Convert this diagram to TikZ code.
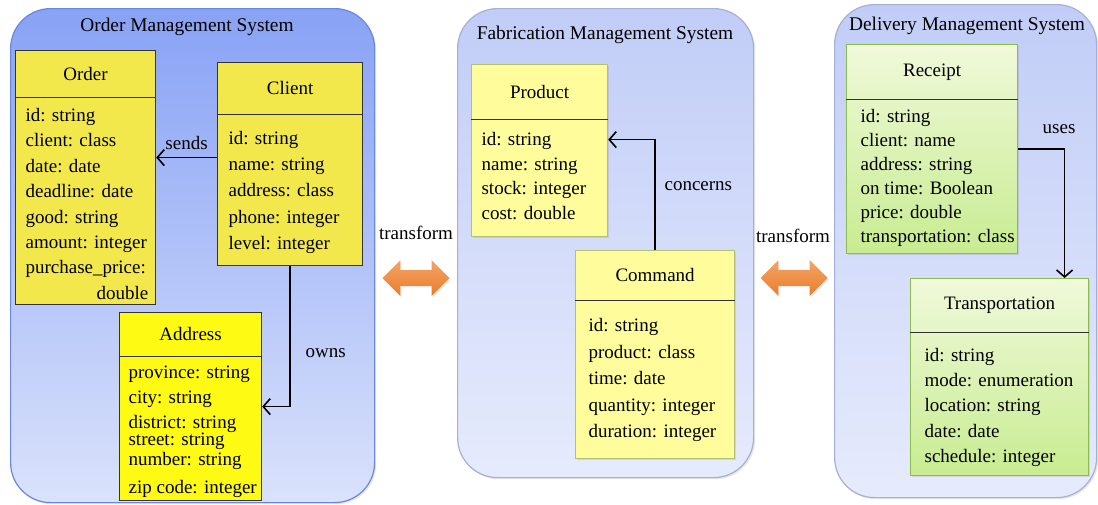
\documentclass[tikz,border=0pt]{standalone}
\usepackage[dvipsnames]{xcolor}
\usepackage{fontspec}
\setmainfont{Liberation Serif}
\usetikzlibrary{positioning,shapes.arrows,shadows,arrows.meta}

\definecolor{omsTop}{RGB}{136,162,245}
\definecolor{omsBottom}{RGB}{218,226,251}
\definecolor{omsLine}{RGB}{105,135,225}
\definecolor{fmsTop}{RGB}{193,205,247}
\definecolor{fmsBottom}{RGB}{230,235,252}
\definecolor{panelLine}{RGB}{165,176,215}
\definecolor{classYellow}{RGB}{242,232,76}
\definecolor{addrYellow}{RGB}{255,250,20}
\definecolor{paleYellow}{RGB}{255,252,156}
\definecolor{paleLine}{RGB}{180,192,120}
\definecolor{greenTop}{RGB}{240,249,218}
\definecolor{greenBottom}{RGB}{200,236,145}
\definecolor{greenLine}{RGB}{140,188,75}
\definecolor{arrowOrange}{RGB}{236,125,40}

\begin{document}
\begin{tikzpicture}[x=0.5pt,y=-0.5pt,thick,>={Straight Barb[length=3.5pt,width=8pt]},
    system panel/.style={draw, rounded corners=20pt, anchor=north west, line width=0.6pt, inner sep=0pt,
        drop shadow={opacity=0.2, shadow xshift=0.8pt, shadow yshift=-0.8pt}},
    panel title/.style={font=\fontsize{9.7}{12}\selectfont},
    class box/.style={draw, anchor=north west, line width=0.6pt, inner sep=0pt},
    pale box/.style={class box, drop shadow={opacity=0.2, shadow xshift=0.8pt, shadow yshift=-0.8pt}},
    class name/.style={inner sep=0pt, font=\fontsize{9.5}{12}\selectfont},
    attr list/.style={align=left, inner sep=0pt, font=\fontsize{9.5}{#1}\selectfont},
    attr list/.default=12.7pt,
    split line/.style={line width=0.6pt, draw=black!80},
    link label/.style={font=\fontsize{9.5}{12}\selectfont},
    transform arrow/.style={double arrow, double arrow head extend=5pt, inner xsep=0pt, inner ysep=3.5pt,
        minimum height=33.5pt, draw=none, top color=arrowOrange!70!white, bottom color=arrowOrange,
        drop shadow={opacity=0.15, shadow xshift=0.6pt, shadow yshift=-0.8pt}}]

    \useasboundingbox (0,0) rectangle (1098,504);

    % the three systems
    \node[system panel, top color=omsTop, bottom color=omsBottom, draw=omsLine, minimum width=182pt, minimum height=247pt] (oms) at (10,8) {};
    \node[system panel, top color=fmsTop, bottom color=fmsBottom, draw=panelLine, minimum width=148pt, minimum height=234.5pt] (fms) at (457,8) {};
    \node[system panel, top color=fmsTop, bottom color=fmsBottom, draw=panelLine, minimum width=131pt, minimum height=246.5pt] (dms) at (834,4) {};

    \node[panel title] (omstitle) at (187,27) {Order Management System};
    \node[panel title] (fmstitle) at (605,35) {Fabrication Management System};
    \node[panel title] (dmstitle) at (967,26) {Delivery Management System};

    % order management
    \node[class box, fill=classYellow, draw=black!80, minimum width=70pt, minimum height=127pt] (order) at (15,50) {};
    \node[class name, minimum width=70pt, minimum height=23pt, below=0pt of order.north] (ordername) {Order};
    \draw[split line] (ordername.south west) -- (ordername.south east);
    \node[attr list, below right=5pt and 5pt of ordername.south west] (orderattrs)
        {id: string\\client: class\\date: date\\deadline: date\\good: string\\amount: integer\\purchase\_price:\\\hspace*{35.5pt}double};

    \node[class box, fill=classYellow, draw=black!80, minimum width=72.5pt, minimum height=101.5pt] (client) at (217,62) {};
    \node[class name, minimum width=72.5pt, minimum height=25.5pt, below=0pt of client.north] (clientname) {Client};
    \draw[split line] (clientname.south west) -- (clientname.south east);
    \node[attr list=13.1pt, below right=8pt and 5.5pt of clientname.south west] (clientattrs)
        {id: string\\name: string\\address: class\\phone: integer\\level: integer};

    \node[class box, fill=addrYellow, draw=black!80, minimum width=71pt, minimum height=94pt] (address) at (119,312) {};
    \node[class name, minimum width=71pt, minimum height=21.5pt, below=0pt of address.north] (addressname) {Address};
    \draw[split line] (addressname.south west) -- (addressname.south east);
    \node[attr list=12.2pt, below right=4.5pt and 4.5pt of addressname.south west] (addressattrs)
        {province: string\\city: string\\[0.3pt]district: string\\[-3.7pt]street: string\\[-2.2pt]number: string\\[1.8pt]zip code: integer};

    % fabrication management
    \node[pale box, fill=paleYellow, draw=paleLine, minimum width=68pt, minimum height=86pt] (product) at (471,64) {};
    \node[class name, minimum width=68pt, minimum height=27pt, below=0pt of product.north] (productname) {Product};
    \draw[split line] (productname.south west) -- (productname.south east);
    \node[attr list=12.3pt, below right=6pt and 5pt of productname.south west] (productattrs)
        {id: string\\name: string\\stock: integer\\cost: double};

    \node[pale box, fill=paleYellow, draw=paleLine, minimum width=79.5pt, minimum height=104pt] (command) at (575,250) {};
    \node[class name, minimum width=79.5pt, minimum height=24.5pt, below=0pt of command.north] (commandname) {Command};
    \draw[split line] (commandname.south west) -- (commandname.south east);
    \node[attr list=13.25pt, below right=8.5pt and 6.5pt of commandname.south west] (commandattrs)
        {id: string\\product: class\\time: date\\quantity: integer\\duration: integer};

    % delivery management
    \node[pale box, top color=greenTop, bottom color=greenBottom, draw=greenLine, minimum width=85.5pt, minimum height=104.5pt] (receipt) at (846,44) {};
    \node[class name, minimum width=85.5pt, minimum height=27pt, below=0pt of receipt.north] (receiptname) {Receipt};
    \draw[split line] (receiptname.south west) -- (receiptname.south east);
    \node[attr list=12pt, below right=4.5pt and 7pt of receiptname.south west] (receiptattrs)
        {id: string\\client: name\\address: string\\on time: Boolean\\price: double\\transportation: class};

    \node[pale box, top color=greenTop, bottom color=greenBottom, draw=greenLine, minimum width=89pt, minimum height=98.5pt] (transport) at (910,278) {};
    \node[class name, minimum width=89pt, minimum height=26.5pt, below=0pt of transport.north] (transportname) {Transportation};
    \draw[split line] (transportname.south west) -- (transportname.south east);
    \node[attr list=12.6pt, below right=7.5pt and 7pt of transportname.south west] (transportattrs)
        {id: string\\mode: enumeration\\location: string\\date: date\\schedule: integer};

    % transformations between systems
    \node[transform arrow] (omstofms) at (416,278) {};
    \node[transform arrow] (fmstodms) at (794,278) {};
    \node[link label] at (416,233) {transform};
    \node[link label] at (793,236) {transform};

    % associations
    \draw[->] ([yshift=3.25pt]client.west) -- node[link label, above] {sends} ([yshift=3.25pt]client.west -| order.east);
    \draw[->] (client.south) |- node[link label, pos=0.31, right, xshift=4pt] {owns} (address.east);
    \draw[->] (command.north) |- node[link label, pos=0.29, right, xshift=1pt] {concerns} ([yshift=5.5pt]product.east);
    \draw[->] (receipt.east) -| node[link label, pos=0.44, above, yshift=4pt] {uses} ([xshift=32.5pt]transport.north);
\end{tikzpicture}
\end{document}
